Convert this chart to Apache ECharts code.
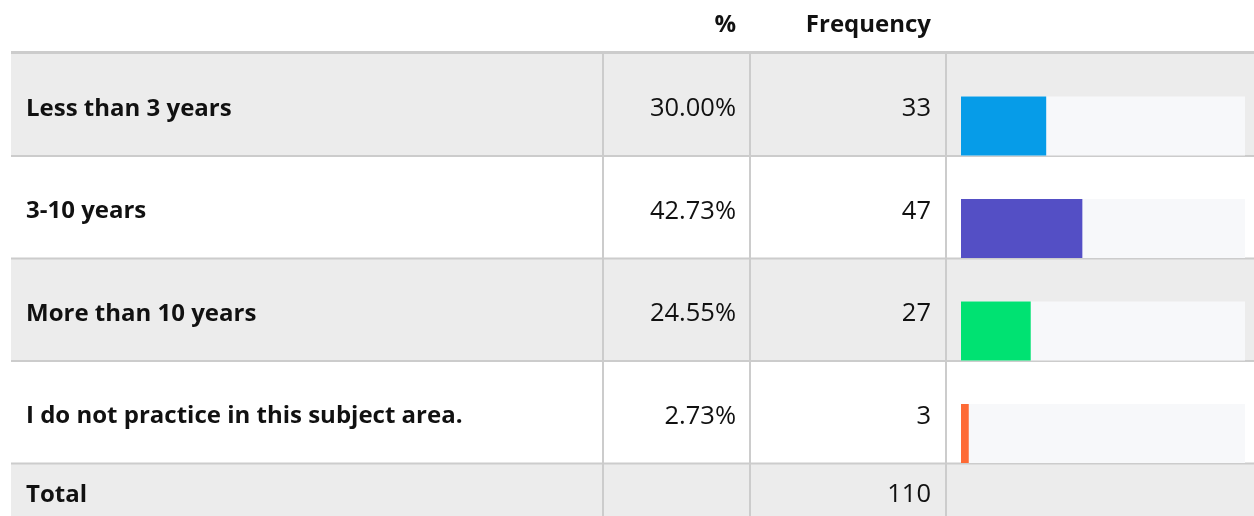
<!DOCTYPE html>
<html>
<head>
<meta charset="utf-8">
<script src="https://cdn.jsdelivr.net/npm/echarts@6/dist/echarts.min.js"></script>
<style>html,body{margin:0;padding:0;background:#fff}#c{width:1254px;height:516px}</style>
</head>
<body>
<div id="c"></div>
<script>
const categories = ['Less than 3 years', '3-10 years', 'More than 10 years', 'I do not practice in this subject area.'];
const percents = [30.00, 42.73, 24.55, 2.73];
const frequencies = [33, 47, 27, 3];
const headerLabels = ['%', 'Frequency'];
const totalLabel = 'Total';
const totalFrequency = 110;

const palette = ['#069ce8', '#544fc5', '#00e272', '#fe6a35'];
const FONT = '"Open Sans", sans-serif';
const BOLD = 'bold 24px ' + FONT;
const REG = '25.5px ' + FONT;
const W = 1254;
const left = 11;
const headerLineY = 51;
const rowTop0 = 54;
const rowH = 102.5;
const colLines = [603, 750, 946];
const pctRight = 736, freqRight = 931;
const textColor = '#111';

const graphics = [];
graphics.push({type:'rect', shape:{x:left, y:headerLineY, width:W-left, height:3}, style:{fill:'#cccccc'}, z:0});
const nRows = categories.length + 1;
for (let i = 0; i < nRows; i++) {
  const top = rowTop0 + i * rowH;
  const gray = i % 2 === 0;
  graphics.push({type:'rect', shape:{x:left, y:top, width:W-left, height:rowH}, style:{fill: gray ? '#ececec' : '#ffffff'}, z:0});
  if (i < nRows - 1) {
    graphics.push({type:'rect', shape:{x:left, y:top + rowH - 1.5, width:W-left, height:2}, style:{fill:'#cccccc'}, z:1});
  }
}
colLines.forEach(x => {
  graphics.push({type:'rect', shape:{x:x-1, y:rowTop0, width:2, height:516-rowTop0}, style:{fill:'#cccccc'}, z:1});
});
graphics.push({type:'text', x:pctRight, y:25, style:{text:headerLabels[0], font:BOLD, fill:textColor, align:'right', verticalAlign:'middle'}, z:3});
graphics.push({type:'text', x:freqRight, y:25, style:{text:headerLabels[1], font:BOLD, fill:textColor, align:'right', verticalAlign:'middle'}, z:3});
categories.forEach((c, i) => {
  const cy = rowTop0 + i * rowH + rowH / 2 + 3.5;
  graphics.push({type:'text', x:26, y:cy, style:{text:c, font:BOLD, fill:textColor, align:'left', verticalAlign:'middle'}, z:3});
  graphics.push({type:'text', x:pctRight, y:cy, style:{text:percents[i].toFixed(2) + '%', font:REG, fill:textColor, align:'right', verticalAlign:'middle'}, z:3});
  graphics.push({type:'text', x:freqRight, y:cy, style:{text:String(frequencies[i]), font:REG, fill:textColor, align:'right', verticalAlign:'middle'}, z:3});
});
const ty = rowTop0 + categories.length * rowH + 31;
graphics.push({type:'text', x:26, y:ty, style:{text:totalLabel, font:BOLD, fill:textColor, align:'left', verticalAlign:'middle'}, z:3});
graphics.push({type:'text', x:freqRight, y:ty, style:{text:String(totalFrequency), font:REG, fill:textColor, align:'right', verticalAlign:'middle'}, z:3});

const chart = echarts.init(document.getElementById('c'), null, {renderer:'canvas'});
chart.setOption({
  animation: false,
  color: palette,
  graphic: {elements: graphics},
  grid: {left: 961, width: 284, top: 126 - rowH / 2, height: rowH * 4, containLabel: false},
  xAxis: {type:'value', min:0, max:100, show:false},
  yAxis: {type:'category', data:categories, inverse:true, show:false},
  series: [{
    type:'bar',
    data: percents,
    colorBy:'data',
    barWidth: 59,
    showBackground: true,
    backgroundStyle: {color:'#f7f8fa'},
    z: 5
  }]
});
</script>
</body>
</html>
